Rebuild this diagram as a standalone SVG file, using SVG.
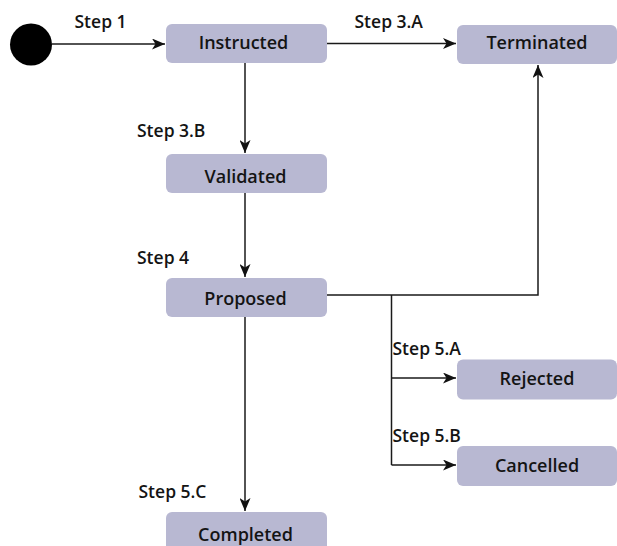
<svg xmlns="http://www.w3.org/2000/svg" width="617" height="546" viewBox="0 0 617 546">
<style>
.node rect{fill:#b8b8d2;}
.node text{font-family:"Open Sans","Noto Sans",sans-serif;font-size:18px;font-weight:600;fill:#141414;text-anchor:middle;}
.lbl{font-family:"Open Sans","Noto Sans",sans-serif;font-size:17.5px;font-weight:600;fill:#141414;}
.edge{fill:none;stroke:#1a1a1a;stroke-width:1.5;}
</style>
<defs>
<marker id="arr" viewBox="0 0 13 11" refX="13" refY="5.5" markerWidth="13" markerHeight="11" markerUnits="userSpaceOnUse" orient="auto">
<path d="M0,0 L13,5.5 L0,11 L3.5,5.5 Z" fill="#111"/>
</marker>
</defs>
<rect width="617" height="546" fill="#fff"/>
<g id="connectors">
<path class="edge" d="M52,44 H165" marker-end="url(#arr)"/>
<path class="edge" d="M327,43.5 H456" marker-end="url(#arr)"/>
<path class="edge" d="M245,63 V153" marker-end="url(#arr)"/>
<path class="edge" d="M245,193 V277" marker-end="url(#arr)"/>
<path class="edge" d="M327,295 H538 V65" marker-end="url(#arr)"/>
<path class="edge" d="M391.5,295 V465"/>
<path class="edge" d="M391.5,378 H456" marker-end="url(#arr)"/>
<path class="edge" d="M391.5,465 H456" marker-end="url(#arr)"/>
<path class="edge" d="M245,317 V511" marker-end="url(#arr)"/>
<text class="lbl" x="74.5" y="28.3">Step 1</text>
<text class="lbl" x="354.5" y="28.3">Step 3.A</text>
<text class="lbl" x="137" y="136.7">Step 3.B</text>
<text class="lbl" x="137" y="264">Step 4</text>
<text class="lbl" x="392.5" y="355">Step 5.A</text>
<text class="lbl" x="392.5" y="442.3">Step 5.B</text>
<text class="lbl" x="138.5" y="498">Step 5.C</text>
</g>
<g id="start"><circle cx="31" cy="44.5" r="21" fill="#000"/></g>
<g id="instructed" class="node"><rect x="166" y="24" width="161" height="39" rx="6"/><text x="243.5" y="48.7">Instructed</text></g>
<g id="terminated" class="node"><rect x="457" y="25" width="160" height="39" rx="6"/><text x="537" y="48.7">Terminated</text></g>
<g id="validated" class="node"><rect x="166" y="154" width="161" height="39" rx="6"/><text x="245.5" y="182.7">Validated</text></g>
<g id="proposed" class="node"><rect x="166" y="278" width="161" height="39" rx="6"/><text x="245.5" y="305">Proposed</text></g>
<g id="rejected" class="node"><rect x="457" y="359.5" width="160" height="40" rx="6"/><text x="537" y="385">Rejected</text></g>
<g id="cancelled" class="node"><rect x="457" y="446" width="160" height="40" rx="6"/><text x="537" y="471.7">Cancelled</text></g>
<g id="completed" class="node"><rect x="166" y="512" width="161" height="40" rx="6"/><text x="245.5" y="540.7">Completed</text></g>
</svg>
